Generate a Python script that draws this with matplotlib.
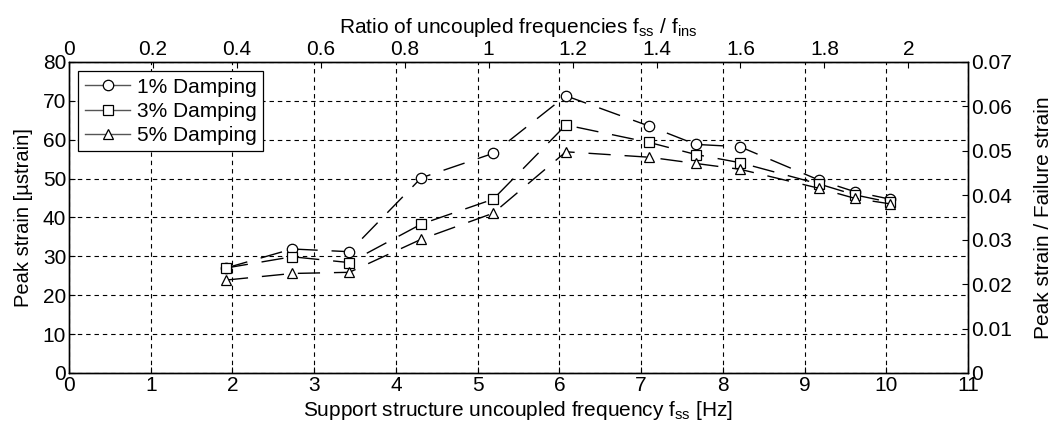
import matplotlib
matplotlib.use("Agg")
import matplotlib.pyplot as plt
import matplotlib.ticker as mticker

plt.rcParams["font.family"] = ["Liberation Sans", "DejaVu Sans"]
plt.rcParams["mathtext.fontset"] = "custom"
plt.rcParams["mathtext.rm"] = "Liberation Sans"
plt.rcParams["mathtext.it"] = "Liberation Sans"

# Frequencia do suporte [Hz] e deformacao de pico [microstrain]
freq_ss = [1.92, 2.73, 3.43, 4.31, 5.19, 6.08, 7.10, 7.67, 8.21, 9.18, 9.62, 10.05]
strain_1 = [27.0, 31.9, 31.2, 50.2, 56.5, 71.3, 63.5, 58.8, 58.2, 49.6, 46.6, 44.7]
strain_3 = [27.0, 29.9, 28.4, 38.3, 44.7, 63.8, 59.3, 56.2, 54.1, 48.6, 45.8, 43.9]
strain_5 = [23.9, 25.6, 25.9, 34.4, 41.1, 56.9, 55.5, 53.9, 52.4, 47.5, 44.9, 43.5]

series = [
    ("1% Damping", strain_1, "o"),
    ("3% Damping", strain_3, "s"),
    ("5% Damping", strain_5, "^"),
]

f_ins = 5.135         # frequencia do instrumento [Hz]
x_max = 11
y_max = 80
ratio_max = 0.07      # deformacao / deformacao de falha no topo do eixo

FS = 15

fig = plt.figure(figsize=(10.57, 4.24), dpi=100)
ax = fig.add_axes([0.0653, 0.1203, 0.8505, 0.7335])

for label, vals, mk in series:
    ax.plot(freq_ss, vals, color="black", lw=1.0,
            linestyle=(0, (16, 10)), marker=mk, markersize=7.5,
            markerfacecolor="white", markeredgecolor="black",
            markeredgewidth=0.9, label=label)

ax.set_xlim(0, x_max)
ax.set_ylim(0, y_max)
ax.set_xticks(range(0, x_max + 1))
ax.set_yticks(range(0, y_max + 1, 10))
ax.grid(True, color="black", linestyle=(0, (4, 3.5)), lw=0.8)
ax.tick_params(axis="x", direction="in", labelsize=FS, length=4, pad=2)
ax.tick_params(axis="y", direction="in", labelsize=FS, length=4, pad=2)
ax.set_xlabel(r"Support structure uncoupled frequency f$_{\mathrm{ss}}$ [Hz]",
              fontsize=FS, labelpad=3)
ax.set_ylabel("Peak strain [µstrain]", fontsize=14.5, labelpad=7)

leg = ax.legend(loc="upper left", fontsize=FS, frameon=True, fancybox=False,
                edgecolor="black", framealpha=1, handlelength=2.2,
                borderpad=0.3, labelspacing=0.25, handletextpad=0.3,
                borderaxespad=0.45)
leg.get_frame().set_linewidth(0.9)
for h in leg.get_lines():
    h.set_linestyle("-")
    h.set_color("#555555")

# eixo superior: razao entre frequencias
ax_top = ax.twiny()
ax_top.set_xlim(0, x_max / f_ins)
ax_top.set_xticks([i * 0.2 for i in range(11)])
ax_top.xaxis.set_major_formatter(mticker.FuncFormatter(lambda v, p: f"{v:g}"))
ax_top.tick_params(direction="in", labelsize=FS, length=4, pad=2)
ax_top.set_xlabel(r"Ratio of uncoupled frequencies f$_{\mathrm{ss}}$ / f$_{\mathrm{ins}}$",
                  fontsize=FS, labelpad=5)

# eixo direito: razao com a deformacao de falha
ax_r = ax.twinx()
ax_r.set_ylim(0, ratio_max)
ax_r.set_yticks([i * 0.01 for i in range(8)])
ax_r.yaxis.set_major_formatter(mticker.FuncFormatter(lambda v, p: f"{v:g}"))
ax_r.tick_params(direction="in", labelsize=FS, length=4, pad=2)
ax_r.set_ylabel("Peak strain / Failure strain", fontsize=FS, labelpad=16)

for a in (ax, ax_top, ax_r):
    for s in a.spines.values():
        s.set_linewidth(0.9)

fig.savefig("out.png", dpi=100)
